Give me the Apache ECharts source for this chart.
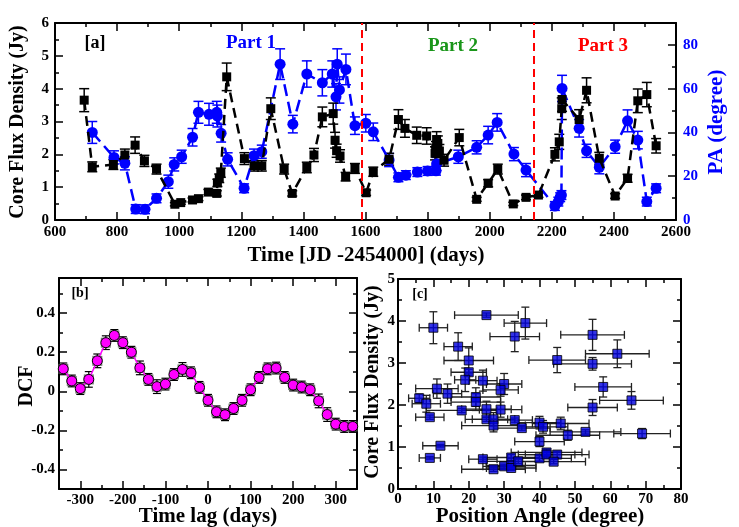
<!DOCTYPE html>
<html>
<head>
<meta charset="utf-8">
<script src="https://cdn.jsdelivr.net/npm/echarts@6/dist/echarts.min.js"></script>
<style>
  html, body { margin: 0; padding: 0; background: #fff; }
  #main { width: 739px; height: 527px; }
</style>
</head>
<body>
<div id="main"></div>
<script>
// ---- panel [a]: core flux density light curve (black) ----
var fluxJD  = [694, 720, 788, 825, 858, 888, 927, 986, 1005, 1043, 1062, 1094, 1121, 1123, 1129, 1134, 1153, 1210, 1241, 1266,
               1295, 1338, 1364, 1411, 1434, 1461, 1496, 1502, 1507, 1518, 1536, 1566, 1602, 1625, 1676, 1706, 1727, 1765, 1797, 1824,
               1827, 1829, 1833, 1838, 1853, 1902, 1958, 1995, 2026, 2076, 2117, 2157, 2210, 2224, 2232, 2233, 2288, 2312, 2353, 2404,
               2444, 2477, 2506, 2536];
var fluxJy  = [3.65, 1.62, 1.69, 1.98, 2.28, 1.80, 1.55, 0.48, 0.53, 0.61, 0.65, 0.85, 0.81, 1.13, 1.27, 1.44, 4.36, 1.87, 1.65, 1.65,
               3.39, 1.55, 0.81, 1.60, 1.98, 3.14, 3.24, 2.43, 2.11, 1.95, 1.32, 1.57, 0.83, 1.47, 1.85, 3.06, 2.79, 2.58, 2.56, 2.03,
               2.18, 2.45, 2.33, 2.10, 1.82, 2.51, 0.63, 1.12, 1.55, 0.49, 0.69, 0.76, 2.00, 2.38, 3.39, 3.67, 3.06, 3.95, 1.88, 0.73,
               1.27, 3.63, 3.82, 2.26];
var fluxErr = [0.35, 0.15, 0.15, 0.18, 0.25, 0.17, 0.15, 0.05, 0.05, 0.06, 0.06, 0.08, 0.08, 0.11, 0.13, 0.14, 0.42, 0.18, 0.16, 0.16,
               0.33, 0.15, 0.08, 0.16, 0.20, 0.30, 0.32, 0.24, 0.20, 0.19, 0.13, 0.15, 0.08, 0.14, 0.18, 0.30, 0.27, 0.25, 0.25, 0.20,
               0.21, 0.24, 0.23, 0.20, 0.18, 0.25, 0.06, 0.11, 0.15, 0.05, 0.07, 0.07, 0.20, 0.23, 0.33, 0.36, 0.30, 0.38, 0.18, 0.07,
               0.12, 0.36, 0.37, 0.22];

// ---- panel [a]: position angle (blue, right axis) ----
var paJD  = [720, 790, 825, 860, 890, 927, 965, 984, 1008, 1043, 1062, 1096, 1121, 1123, 1135, 1156, 1209, 1241, 1266, 1325,
             1366, 1411, 1461, 1493, 1505, 1509, 1516, 1537, 1566, 1601, 1625, 1676, 1706, 1730, 1767, 1800, 1827, 1829, 1899, 1958,
             1995, 2024, 2078, 2117, 2210, 2221, 2227, 2231, 2233, 2288, 2312, 2353, 2404, 2444, 2477, 2506, 2536];
var paDeg = [40.0, 28.6, 25.9, 5.0, 4.9, 9.9, 17.5, 25.4, 28.9, 37.8, 49.2, 48.3, 49.2, 47.5, 39.6, 27.7, 14.5, 29.4, 31.2, 71.2,
             43.8, 66.7, 62.7, 66.7, 56.3, 71.2, 59.4, 68.8, 43.1, 44.2, 40.3, 27.4, 19.5, 20.5, 21.9, 22.4, 22.5, 25.6, 28.9, 33.2,
             38.8, 44.6, 30.1, 22.8, 6.4, 8.4, 10.4, 11.4, 60.1, 41.9, 31.6, 24.1, 33.5, 45.3, 36.5, 8.4, 14.5];
var paErr = [5, 3, 3, 2, 2, 2, 3, 3, 3, 4, 5, 5, 5, 5, 4, 3, 2, 3, 3, 7,
             4, 6, 6, 6, 6, 7, 6, 7, 4, 4, 4, 3, 2, 2, 2, 2, 2, 3, 3, 3,
             4, 4, 3, 3, 2, 2, 2, 2, 6, 4, 3, 3, 3, 5, 4, 2, 2];
var partLines = [1588, 2143];

// ---- panel [b]: DCF ----
var lagDays = [-340, -320, -300, -280, -260, -240, -220, -200, -180, -160, -140, -120, -100, -80, -60, -40, -20, 0,
               20, 40, 60, 80, 100, 120, 140, 160, 180, 200, 220, 240, 260, 280, 300, 320, 340];
var dcfVals = [0.115, 0.053, 0.014, 0.061, 0.156, 0.249, 0.286, 0.249, 0.200, 0.120, 0.061, 0.024, 0.037, 0.086, 0.112, 0.095, 0.020, -0.046,
               -0.105, -0.120, -0.088, -0.046, 0.008, 0.071, 0.115, 0.119, 0.071, 0.032, 0.022, 0.008, -0.049, -0.119, -0.168, -0.180, -0.180];
var dcfErr  = [0.03, 0.03, 0.03, 0.04, 0.035, 0.035, 0.03, 0.03, 0.03, 0.035, 0.03, 0.035, 0.03, 0.03, 0.035, 0.03, 0.03, 0.03,
               0.03, 0.03, 0.03, 0.03, 0.03, 0.03, 0.03, 0.03, 0.03, 0.03, 0.03, 0.03, 0.035, 0.035, 0.03, 0.03, 0.03];

// ---- panel [c]: flux vs position angle ----
var scPA      = [10, 25, 36, 33, 17, 20, 55, 62, 45, 55, 20, 19, 24, 30, 29, 11, 14, 58, 6, 8, 22, 22, 66, 55, 9, 18, 25,
                 29, 25, 27, 27, 33, 35, 40, 41, 46, 48, 53, 69, 40, 12, 9, 24, 32, 30, 27, 32, 32, 34, 40, 42, 42, 45, 44];
var scPAErr   = [4, 9, 6, 7, 4, 7, 9, 9, 8, 11, 5, 3, 4, 5, 5, 6, 4, 8, 3, 4, 7, 7, 9, 7, 4, 10, 7,
                 6, 6, 6, 9, 5, 8, 6, 7, 8, 9, 10, 8, 7, 5, 3, 4, 8, 6, 9, 7, 7, 9, 9, 10, 8, 9, 9];
var scFlux    = [3.84, 4.14, 3.95, 3.63, 3.39, 3.06, 3.67, 3.22, 3.07, 2.98, 2.78, 2.60, 2.58, 2.50, 2.36, 2.39, 2.27, 2.43, 2.16, 2.03, 2.19, 2.07, 2.11, 1.94, 1.71, 1.87, 1.90,
                 1.89, 1.66, 1.66, 1.51, 1.64, 1.45, 1.58, 1.48, 1.56, 1.28, 1.36, 1.32, 1.13, 1.03, 0.74, 0.71, 0.75, 0.54, 0.47, 0.56, 0.50, 0.66, 0.73, 0.87, 0.82, 0.82, 0.65];
var scFluxErr = [0.38, 0.05, 0.38, 0.36, 0.33, 0.30, 0.37, 0.33, 0.30, 0.15, 0.07, 0.28, 0.25, 0.25, 0.15, 0.23, 0.23, 0.24, 0.10, 0.20, 0.22, 0.20, 0.21, 0.19, 0.05, 0.05, 0.19,
                 0.18, 0.05, 0.16, 0.15, 0.05, 0.05, 0.15, 0.15, 0.15, 0.12, 0.05, 0.12, 0.12, 0.03, 0.03, 0.05, 0.07, 0.05, 0.05, 0.05, 0.05, 0.05, 0.07, 0.08, 0.08, 0.08, 0.05];

// ---- tick values ----
var aXTicks = [600, 800, 1000, 1200, 1400, 1600, 1800, 2000, 2200, 2400, 2600];
var aXMinor = [700, 900, 1100, 1300, 1500, 1700, 1900, 2100, 2300, 2500];
var aYTicks = [0, 1, 2, 3, 4, 5, 6];
var aYMinor = [0.5, 1.5, 2.5, 3.5, 4.5, 5.5];
var aPATicks = [0, 20, 40, 60, 80];
var aPAMinor = [10, 30, 50, 70, 90];
var bXTicks = [-300, -200, -100, 0, 100, 200, 300];
var bXMinor = [-350, -250, -150, -50, 50, 150, 250, 350];
var bYTicks = [-0.4, -0.2, 0, 0.2, 0.4];
var bYMinor = [-0.5, -0.3, -0.1, 0.1, 0.3, 0.5];
var cXTicks = [0, 10, 20, 30, 40, 50, 60, 70, 80];
var cXMinor = [5, 15, 25, 35, 45, 55, 65, 75];
var cYTicks = [0, 1, 2, 3, 4, 5];
var cYMinor = [0.5, 1.5, 2.5, 3.5, 4.5];

var FONT = '"Liberation Serif", "DejaVu Serif", serif';
var chart = echarts.init(document.getElementById('main'), null, {renderer: 'canvas'});

var xAxes = [], yAxes = [];
function addAxis(list, grid, pos, range, major, minor, lbl) {
    var main = {
        type: 'value', gridIndex: grid, position: pos, min: range[0], max: range[1],
        axisLine: {show: true, onZero: false, lineStyle: {color: '#000', width: 2}},
        splitLine: {show: false},
        axisTick: {show: true, inside: true, length: 8, customValues: major, lineStyle: {color: '#000', width: 1.5}},
        axisLabel: {show: false}
    };
    if (lbl) {
        main.axisLabel = {show: true, customValues: major, margin: lbl.margin, color: lbl.color || '#000',
            fontFamily: FONT, fontWeight: 'bold', fontSize: 15,
            formatter: function (v) { return String(v); }};
    }
    list.push(main);
    var idx = list.length - 1;
    list.push({
        type: 'value', gridIndex: grid, position: pos, min: range[0], max: range[1],
        axisLine: {show: false, onZero: false}, splitLine: {show: false},
        axisTick: {show: true, inside: true, length: 4, customValues: minor, lineStyle: {color: '#000', width: 1.5}},
        axisLabel: {show: false}
    });
    return idx;
}

// error bars drawn as custom series; data item = [x, y, xerr, yerr]
function errBars(xi, yi, pts, color, cap, lw) {
    return {
        type: 'custom', xAxisIndex: xi, yAxisIndex: yi, silent: true, z: 2, data: pts,
        renderItem: function (params, api) {
            var x = api.value(0), y = api.value(1), ex = api.value(2), ey = api.value(3);
            var st = {stroke: color, lineWidth: lw};
            var ch = [];
            if (ey) {
                var a = api.coord([x, y - ey]), b = api.coord([x, y + ey]);
                ch.push({type: 'line', shape: {x1: a[0], y1: a[1], x2: b[0], y2: b[1]}, style: st});
                ch.push({type: 'line', shape: {x1: a[0] - cap, y1: a[1], x2: a[0] + cap, y2: a[1]}, style: st});
                ch.push({type: 'line', shape: {x1: b[0] - cap, y1: b[1], x2: b[0] + cap, y2: b[1]}, style: st});
            }
            if (ex) {
                var c = api.coord([x - ex, y]), d = api.coord([x + ex, y]);
                ch.push({type: 'line', shape: {x1: c[0], y1: c[1], x2: d[0], y2: d[1]}, style: st});
                ch.push({type: 'line', shape: {x1: c[0], y1: c[1] - cap, x2: c[0], y2: c[1] + cap}, style: st});
                ch.push({type: 'line', shape: {x1: d[0], y1: d[1] - cap, x2: d[0], y2: d[1] + cap}, style: st});
            }
            return {type: 'group', children: ch};
        }
    };
}

// panel a axes
var aX = addAxis(xAxes, 0, 'bottom', [600, 2600], aXTicks, aXMinor, {margin: 5});
addAxis(xAxes, 0, 'top', [600, 2600], aXTicks, aXMinor, null);
var aY = addAxis(yAxes, 0, 'left', [0, 6], aYTicks, aYMinor, {margin: 6});
var aPA = addAxis(yAxes, 0, 'right', [0, 90], aPATicks, aPAMinor, {margin: 7, color: '#0000ff'});
// panel b axes
var bX = addAxis(xAxes, 1, 'bottom', [-350, 350], bXTicks, bXMinor, {margin: 4});
addAxis(xAxes, 1, 'top', [-350, 350], bXTicks, bXMinor, null);
var bY = addAxis(yAxes, 1, 'left', [-0.5, 0.58], bYTicks, bYMinor, {margin: 4});
addAxis(yAxes, 1, 'right', [-0.5, 0.58], bYTicks, bYMinor, null);
// panel c axes
var cX = addAxis(xAxes, 2, 'bottom', [0, 80], cXTicks, cXMinor, {margin: 3});
addAxis(xAxes, 2, 'top', [0, 80], cXTicks, cXMinor, null);
var cY = addAxis(yAxes, 2, 'left', [0, 5], cYTicks, cYMinor, {margin: 3});
addAxis(yAxes, 2, 'right', [0, 5], cYTicks, cYMinor, null);

var fluxPts = fluxJD.map(function (d, i) { return [d, fluxJy[i]]; });
var fluxErrPts = fluxJD.map(function (d, i) { return [d, fluxJy[i], 0, fluxErr[i]]; });
var paPts = paJD.map(function (d, i) { return [d, paDeg[i]]; });
var paErrPts = paJD.map(function (d, i) { return [d, paDeg[i], 0, paErr[i]]; });
var dcfPts = lagDays.map(function (d, i) { return [d, dcfVals[i]]; });
var dcfErrPts = lagDays.map(function (d, i) { return [d, dcfVals[i], 0, dcfErr[i]]; });
var scPts = scPA.map(function (d, i) { return [d, scFlux[i]]; });
var scErrPts = scPA.map(function (d, i) { return [d, scFlux[i], scPAErr[i], scFluxErr[i]]; });

function txt(x, y, s, size, color, rot) {
    return {type: 'text', x: x, y: y, rotation: rot || 0, z: 100,
        style: {text: s, fill: color || '#000', font: 'bold ' + size + 'px ' + FONT, align: 'center', verticalAlign: 'middle'}};
}

var option = {
    backgroundColor: '#fff',
    animation: false,
    grid: [
        {left: 55, top: 23, width: 621, height: 197, outerBoundsMode: 'none'},
        {left: 59, top: 278, width: 298, height: 211, outerBoundsMode: 'none'},
        {left: 398, top: 279, width: 283, height: 210, outerBoundsMode: 'none'}
    ],
    xAxis: xAxes,
    yAxis: yAxes,
    graphic: [
        txt(18, 122, 'Core Flux Density (Jy)', 20, '#000', Math.PI / 2),
        txt(366, 256, 'Time [JD -2454000] (days)', 21, '#000'),
        txt(717, 122, 'PA (degree)', 21, '#0000ff', Math.PI / 2),
        txt(95, 43, '[a]', 18, '#000'),
        txt(251, 43, 'Part 1', 19, '#0000ff'),
        txt(453, 46, 'Part 2', 19, '#1a961a'),
        txt(603, 46, 'Part 3', 19, '#ff0000'),
        txt(27, 386, 'DCF', 20, '#000', Math.PI / 2),
        txt(208, 517, 'Time lag (days)', 21, '#000'),
        txt(80, 293, '[b]', 14, '#000'),
        txt(373, 382, 'Core Flux Density (Jy)', 20, '#000', Math.PI / 2),
        txt(540, 517, 'Position Angle (degree)', 21, '#000'),
        txt(420, 294, '[c]', 14, '#000')
    ],
    series: [
        errBars(aX, aPA, paErrPts, '#0000ff', 5, 1.5),
        {
            type: 'line', xAxisIndex: aX, yAxisIndex: aPA, data: paPts, z: 3,
            symbol: 'circle', symbolSize: 11,
            itemStyle: {color: '#0000ff'},
            lineStyle: {color: '#0000ff', width: 2.5, type: [12, 6]}
        },
        errBars(aX, aY, fluxErrPts, '#000', 5, 1.5),
        {
            type: 'line', xAxisIndex: aX, yAxisIndex: aY, data: fluxPts, z: 4,
            symbol: 'rect', symbolSize: 9,
            itemStyle: {color: '#000'},
            lineStyle: {color: '#000', width: 2.5, type: [10, 6]},
            markLine: {
                silent: true, symbol: 'none', label: {show: false},
                lineStyle: {color: '#ff0000', width: 2, type: [8, 5]},
                data: partLines.map(function (v) { return {xAxis: v}; })
            }
        },
        errBars(bX, bY, dcfErrPts, '#000', 4, 1.2),
        {
            type: 'scatter', xAxisIndex: bX, yAxisIndex: bY, data: dcfPts, z: 3,
            symbol: 'rect', symbolSize: 10, itemStyle: {color: '#555'}
        },
        {
            type: 'line', xAxisIndex: bX, yAxisIndex: bY, data: dcfPts, z: 4,
            symbol: 'circle', symbolSize: 10,
            itemStyle: {color: '#ff00ff', borderColor: '#000', borderWidth: 1},
            lineStyle: {color: '#ff00ff', width: 1.5}
        },
        errBars(cX, cY, scErrPts, '#222', 4, 1.3),
        {
            type: 'scatter', xAxisIndex: cX, yAxisIndex: cY, data: scPts, z: 4,
            symbol: 'rect', symbolSize: 9,
            itemStyle: {color: '#0000dd', borderColor: '#000', borderWidth: 1}
        }
    ]
};
chart.setOption(option);
</script>
</body>
</html>
